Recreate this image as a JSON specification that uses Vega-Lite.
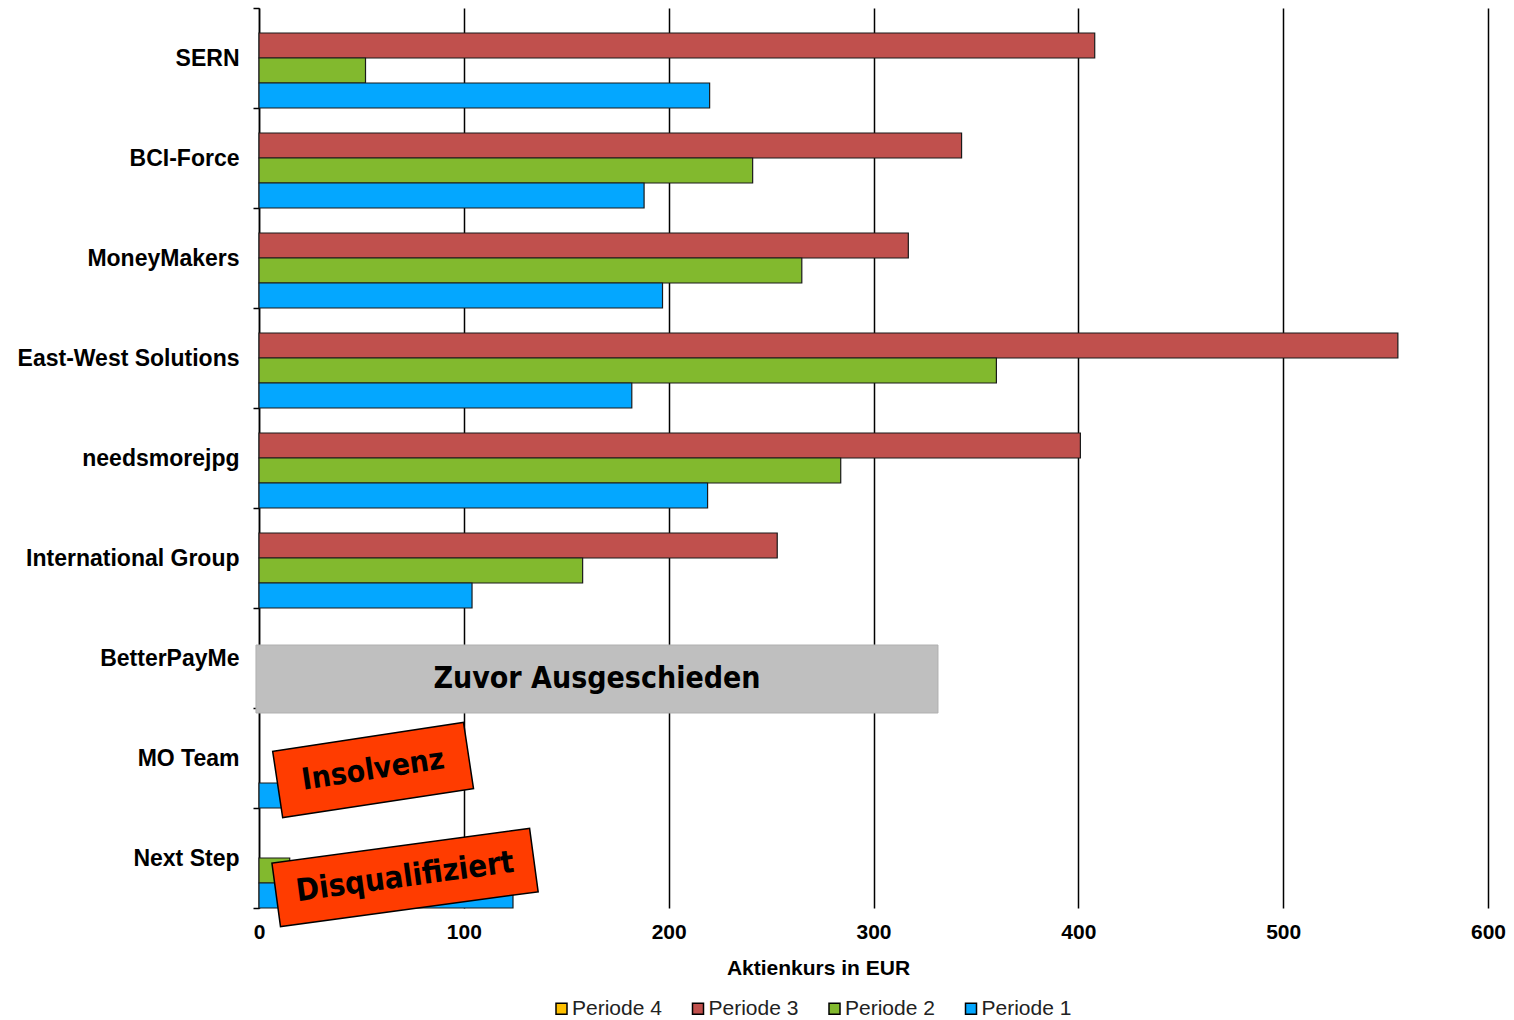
{
  "$schema": "https://vega.github.io/schema/vega-lite/v6.json",
  "width": 1229,
  "height": 900,
  "autosize": {"type": "none"},
  "padding": {"left": 259, "top": 8, "right": 26, "bottom": 112},
  "background": "white",
  "config": {"view": {"stroke": null}, "font": "Liberation Sans"},
  "datasets": {
    "bars": [
      {"Team": "SERN", "Periode": "Periode 3", "Kurs": 408},
      {"Team": "SERN", "Periode": "Periode 2", "Kurs": 52},
      {"Team": "SERN", "Periode": "Periode 1", "Kurs": 220},
      {"Team": "BCI-Force", "Periode": "Periode 3", "Kurs": 343},
      {"Team": "BCI-Force", "Periode": "Periode 2", "Kurs": 241},
      {"Team": "BCI-Force", "Periode": "Periode 1", "Kurs": 188},
      {"Team": "MoneyMakers", "Periode": "Periode 3", "Kurs": 317},
      {"Team": "MoneyMakers", "Periode": "Periode 2", "Kurs": 265},
      {"Team": "MoneyMakers", "Periode": "Periode 1", "Kurs": 197},
      {"Team": "East-West Solutions", "Periode": "Periode 3", "Kurs": 556},
      {"Team": "East-West Solutions", "Periode": "Periode 2", "Kurs": 360},
      {"Team": "East-West Solutions", "Periode": "Periode 1", "Kurs": 182},
      {"Team": "needsmorejpg", "Periode": "Periode 3", "Kurs": 401},
      {"Team": "needsmorejpg", "Periode": "Periode 2", "Kurs": 284},
      {"Team": "needsmorejpg", "Periode": "Periode 1", "Kurs": 219},
      {"Team": "International Group", "Periode": "Periode 3", "Kurs": 253},
      {"Team": "International Group", "Periode": "Periode 2", "Kurs": 158},
      {"Team": "International Group", "Periode": "Periode 1", "Kurs": 104},
      {"Team": "MO Team", "Periode": "Periode 1", "Kurs": 35},
      {"Team": "Next Step", "Periode": "Periode 2", "Kurs": 15},
      {"Team": "Next Step", "Periode": "Periode 1", "Kurs": 124}
    ],
    "notes": [
      {"Team": "BetterPayMe", "Kurs": 165, "label": "Zuvor Ausgeschieden"},
      {"Team": "MO Team", "Kurs": 55.7, "label": "Insolvenz"},
      {"Team": "Next Step", "Kurs": 71.3, "label": "Disqualifiziert"}
    ]
  },
  "layer": [
    {
      "data": {"name": "bars"},
      "mark": {"type": "bar", "stroke": "#1a1a1a", "strokeWidth": 1.2},
      "encoding": {
        "y": {
          "field": "Team",
          "type": "nominal",
          "sort": ["SERN", "BCI-Force", "MoneyMakers", "East-West Solutions", "needsmorejpg", "International Group", "BetterPayMe", "MO Team", "Next Step"],
          "scale": {
            "domain": ["SERN", "BCI-Force", "MoneyMakers", "East-West Solutions", "needsmorejpg", "International Group", "BetterPayMe", "MO Team", "Next Step"],
            "paddingInner": 0,
            "paddingOuter": 0
          },
          "axis": {
            "title": null,
            "labelFont": "Liberation Sans",
            "labelFontSize": 23,
            "labelFontWeight": "bold",
            "labelColor": "#000",
            "labelPadding": 14,
            "labelLimit": 400,
            "tickSize": 6,
            "tickColor": "#000",
            "tickWidth": 1.5,
            "tickBand": "extent",
            "domainColor": "#000",
            "domainWidth": 1.5,
            "grid": false
          }
        },
        "yOffset": {
          "field": "Periode",
          "type": "nominal",
          "scale": {"domain": ["Periode 4", "Periode 3", "Periode 2", "Periode 1"], "paddingInner": 0, "paddingOuter": 0}
        },
        "x": {
          "field": "Kurs",
          "type": "quantitative",
          "scale": {"domain": [0, 600], "nice": false, "zero": true},
          "axis": {
            "values": [0, 100, 200, 300, 400, 500, 600],
            "grid": true,
            "gridColor": "#000",
            "gridWidth": 1.5,
            "domain": false,
            "ticks": false,
            "labelFont": "Liberation Sans",
            "labelFontSize": 21,
            "labelFontWeight": "bold",
            "labelColor": "#000",
            "labelPadding": 13,
            "labelFlush": false,
            "title": "Aktienkurs  in EUR",
            "titleFont": "Liberation Sans",
            "titleFontSize": 21,
            "titleFontWeight": "bold",
            "titleColor": "#000",
            "titlePadding": 15,
            "titleX": 559
          }
        },
        "color": {
          "field": "Periode",
          "type": "nominal",
          "scale": {
            "domain": ["Periode 4", "Periode 3", "Periode 2", "Periode 1"],
            "range": ["#FFC000", "#C0504D", "#82B92E", "#04A7FF"]
          },
          "legend": {
            "orient": "none",
            "legendX": 292,
            "legendY": 990,
            "padding": 0,
            "direction": "horizontal",
            "title": null,
            "symbolType": "square",
            "symbolSize": 121,
            "symbolStrokeColor": "#000",
            "symbolStrokeWidth": 1.5,
            "symbolOpacity": 1,
            "labelFont": "Liberation Sans",
            "labelFontSize": 21,
            "labelColor": "#222",
            "labelOffset": 0,
            "columnPadding": 25.5
          }
        }
      }
    },
    {
      "data": {"name": "notes"},
      "transform": [{"filter": "datum.label === 'Zuvor Ausgeschieden'"}],
      "mark": {"type": "point", "shape": "M-1,-0.0997L1,-0.0997L1,0.0997L-1,0.0997Z", "size": 465124, "filled": true, "fill": "#BFBFBF", "stroke": "#B0B0B0", "strokeWidth": 1, "opacity": 1, "yOffset": 21},
      "encoding": {
        "x": {"field": "Kurs", "type": "quantitative"},
        "y": {"field": "Team", "type": "nominal"}
      }
    },
    {
      "data": {"name": "notes"},
      "transform": [{"filter": "datum.label === 'Zuvor Ausgeschieden'"}],
      "mark": {"type": "text", "font": "DejaVu Sans Condensed, DejaVu Sans, sans-serif", "fontWeight": "bold", "fontSize": 30, "color": "#000", "align": "center", "baseline": "middle", "yOffset": 21},
      "encoding": {
        "x": {"field": "Kurs", "type": "quantitative"},
        "y": {"field": "Team", "type": "nominal"},
        "text": {"field": "label"}
      }
    },
    {
      "data": {"name": "notes"},
      "transform": [{"filter": "datum.label === 'Insolvenz'"}],
      "mark": {"type": "point", "shape": "M-1,-0.347L1,-0.347L1,0.347L-1,0.347Z", "size": 37249, "filled": true, "fill": "#FF3C00", "stroke": "#000", "strokeWidth": 1.5, "opacity": 1, "angle": -8.6, "yOffset": 12},
      "encoding": {
        "x": {"field": "Kurs", "type": "quantitative"},
        "y": {"field": "Team", "type": "nominal"}
      }
    },
    {
      "data": {"name": "notes"},
      "transform": [{"filter": "datum.label === 'Insolvenz'"}],
      "mark": {"type": "text", "font": "DejaVu Sans Condensed, DejaVu Sans, sans-serif", "fontWeight": "bold", "fontSize": 30, "color": "#000", "align": "center", "baseline": "middle", "angle": -8.6, "yOffset": 12},
      "encoding": {
        "x": {"field": "Kurs", "type": "quantitative"},
        "y": {"field": "Team", "type": "nominal"},
        "text": {"field": "label"}
      }
    },
    {
      "data": {"name": "notes"},
      "transform": [{"filter": "datum.label === 'Disqualifiziert'"}],
      "mark": {"type": "point", "shape": "M-1,-0.246L1,-0.246L1,0.246L-1,0.246Z", "size": 67600, "filled": true, "fill": "#FF3C00", "stroke": "#000", "strokeWidth": 1.5, "opacity": 1, "angle": -7.7, "yOffset": 19.5},
      "encoding": {
        "x": {"field": "Kurs", "type": "quantitative"},
        "y": {"field": "Team", "type": "nominal"}
      }
    },
    {
      "data": {"name": "notes"},
      "transform": [{"filter": "datum.label === 'Disqualifiziert'"}],
      "mark": {"type": "text", "font": "DejaVu Sans Condensed, DejaVu Sans, sans-serif", "fontWeight": "bold", "fontSize": 31, "color": "#000", "align": "center", "baseline": "middle", "angle": -7.7, "yOffset": 19.5},
      "encoding": {
        "x": {"field": "Kurs", "type": "quantitative"},
        "y": {"field": "Team", "type": "nominal"},
        "text": {"field": "label"}
      }
    }
  ]
}
